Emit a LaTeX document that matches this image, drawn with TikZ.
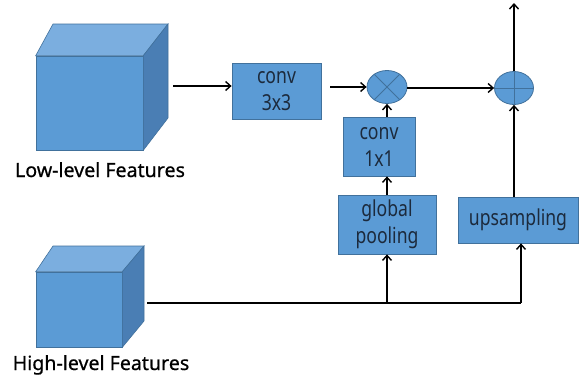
\documentclass[tikz,border=0pt]{standalone}
\usepackage{fontspec}
\setmainfont{Noto Sans}
\newfontfamily\boxfont{Noto Sans}[FakeStretch=0.8]
\newfontfamily\lblfont{Noto Sans}[FakeBold=0.6]
\usetikzlibrary{shapes.geometric,arrows.meta}
\definecolor{fillblue}{HTML}{5B9BD5}
\definecolor{edgeblue}{HTML}{41719C}
\definecolor{topblue}{HTML}{7BAEDF}
\definecolor{sideblue}{HTML}{4A7EB4}
\definecolor{txtblue}{HTML}{1C2A3C}
\tikzset{
  blk/.style={rectangle, draw=edgeblue, fill=fillblue, line width=0.8pt, inner sep=0pt,
    align=center, text=txtblue, font=\boxfont\fontsize{22}{27}\selectfont},
  opnode/.style={ellipse, draw=edgeblue, fill=fillblue, line width=0.8pt, inner sep=0pt},
  opline/.style={draw=edgeblue, line width=1pt},
  face/.style={draw=edgeblue, line width=0.6pt},
  conn/.style={line width=1.5pt, -{Straight Barb[length=5pt,width=9pt,line width=1.4pt]}},
  wire/.style={line width=1.5pt},
  lbl/.style={font=\lblfont\fontsize{19.6}{22}\selectfont, anchor=base, text=black}
}
\begin{document}
\begin{tikzpicture}[x=1pt,y=-1pt]
\useasboundingbox[fill=white] (0,0) rectangle (581,378);

% low-level cube
\node[rectangle, fill=fillblue, face, minimum width=107pt, minimum height=94pt, inner sep=0pt] (lc) at (89.5,103) {};
\path[face, fill=topblue] (lc.north west) -- (53,24) -- (168,24) -- (lc.north east) -- cycle;
\path[face, fill=sideblue] (lc.north east) -- (168,24) -- (168,118) -- (lc.south east) -- cycle;
\node[lbl] (lcl) at (100,177) {Low-level Features};

% high-level cube
\node[rectangle, fill=fillblue, face, minimum width=86pt, minimum height=75pt, inner sep=0pt] (hc) at (79,309.5) {};
\path[face, fill=topblue] (hc.north west) -- (53,246) -- (144,246) -- (hc.north east) -- cycle;
\path[face, fill=sideblue] (hc.north east) -- (144,246) -- (144,321) -- (hc.south east) -- cycle;
\node[lbl] (hcl) at (101,370) {High-level Features};

% blocks
\node[blk, minimum width=89pt, minimum height=56pt] (c3) at (276.5,91) {conv\\3x3};
\node[blk, minimum width=72pt, minimum height=59pt] (c1) at (379,146.5) {conv\\1x1};
\node[blk, minimum width=98pt, minimum height=59pt] (gp) at (387,224.5) {global\\pooling};
\node[blk, minimum width=120pt, minimum height=46pt] (up) at (518,220) {upsampling};

% operators
\node[opnode, minimum width=40pt, minimum height=33pt] (ot) at (387,87) {};
\draw[opline] (ot.45) -- (ot.225) (ot.135) -- (ot.315);
\node[opnode, minimum width=39pt, minimum height=33pt] (pl) at (514,88) {};
\draw[opline] (pl.north) -- (pl.south) (pl.west) -- (pl.east);

% free ends
\coordinate (lcout) at (173,86);
\coordinate (hcout) at (147,303);
\coordinate (c3out) at (330,87);
\coordinate (top) at (514,3);

% connectors
\draw[conn] (lcout) -- (c3.west |- lcout);
\draw[conn] (c3out) -- (ot.west);
\draw[conn] (c1.north -| ot.south) -- (ot.south);
\draw[conn] (gp.north) -- (c1.south -| gp.north);
\draw[wire] (hcout) -- (hcout -| 521,0) coordinate (corner);
\draw[conn] (corner) -- (corner |- up.south);
\draw[conn] (hcout -| gp.south) -- (gp.south);
\draw[conn] (ot.east |- pl.west) -- (pl.west);
\draw[conn] (up.north -| pl.south) -- (pl.south);
\draw[conn] (pl.north) -- (top);
\end{tikzpicture}
\end{document}
